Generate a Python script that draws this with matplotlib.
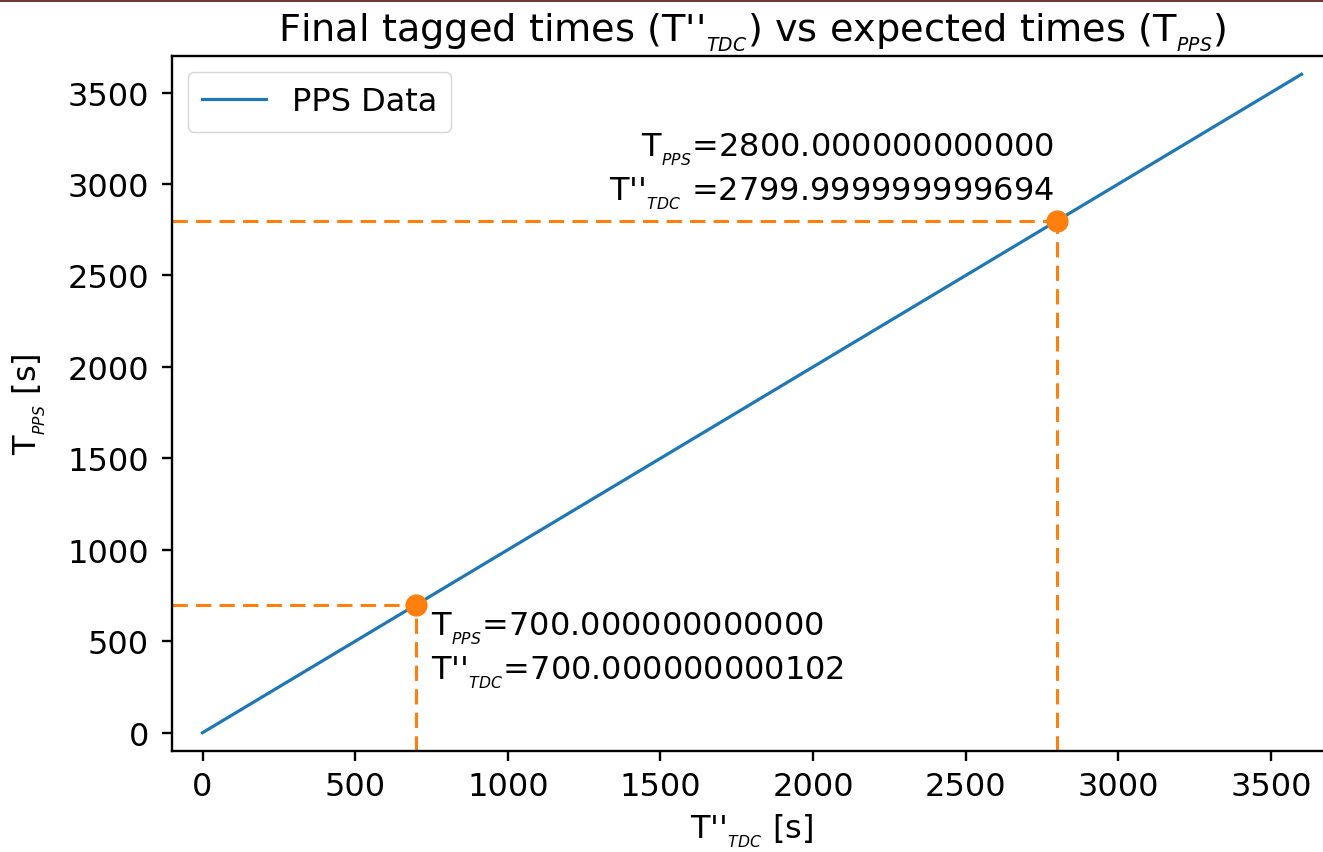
import matplotlib.pyplot as plt
from matplotlib.patches import Rectangle

# PPS run: tagged TDC time against expected PPS time
t_tdc = [0, 3600]
t_pps = [0, 3600]

# the two checked points and their printed values
check_pps = [700, 2800]
check_tdc = [700.000000000102, 2799.999999999694]
check_pps_txt = ["700.000000000000", "2800.000000000000"]
check_tdc_txt = ["700.000000000102", "2799.999999999694"]

TDC = r"T''$_{_{TDC}}$"
PPS = r"T$_{_{PPS}}$"

fig = plt.figure(figsize=(13.23, 8.53), dpi=100)
# axes runs past the right edge of the figure
ax = fig.add_axes([0.130, 0.1184, 0.95, 0.8148])
ax.patch.set_visible(False)
xmin, ymin = -100, -100
xmax = xmin + 0.95 * 1323 * 3800 / 1160
xc = (752 - 172) / (0.95 * 1323)

ax.plot(t_tdc, t_pps, color='C0', lw=2.3, label='PPS Data', zorder=3)

for x, y in zip(check_tdc, check_pps):
    ax.plot([xmin, x], [y, y], color='C1', lw=2.2, dashes=(5, 2.7), zorder=2)
    ax.plot([x, x], [ymin, y], color='C1', lw=2.2, dashes=(5, 2.7), zorder=2)
    ax.plot(x, y, 'o', color='C1', ms=15, zorder=4)

# low point: label below-right, high point: label above-left
ax.text(check_tdc[0] + 50, check_pps[0] - 30,
        PPS + "=" + check_pps_txt[0] + "\n" + TDC + "=" + check_tdc_txt[0],
        ha='left', va='top', fontsize=23, linespacing=1.3)
ax.text(check_tdc[1] - 10, check_pps[1] + 55,
        PPS + "=" + check_pps_txt[1] + "\n" + TDC + " =" + check_tdc_txt[1],
        ha='right', va='bottom', fontsize=23, linespacing=1.3)

ax.set_xlim(xmin, xmax)
ax.set_ylim(ymin, 3700)
ax.set_xticks(range(0, 3501, 500))
ax.set_yticks(range(0, 3501, 500))
ax.tick_params(labelsize=23, width=1.7, length=7.5)
ax.tick_params(axis='x', pad=7)
ax.tick_params(axis='y', pad=9)
ax.spines['right'].set_visible(False)
for s in ax.spines.values():
    s.set_linewidth(1.7)

ax.set_xlabel(TDC + " [s]", fontsize=23)
ax.xaxis.set_label_coords(xc, -0.088)
ax.set_ylabel(PPS + " [s]", fontsize=23, labelpad=14)
fig.text(752 / 1323, 1 - 33 / 853,
         "Final tagged times (" + TDC + ") vs expected times (" + PPS + ")",
         fontsize=27.5, ha='center', va='center')
ax.legend(loc='upper left', fontsize=23, handlelength=2.0, borderpad=0.45,
          bbox_to_anchor=(0.0, 1.0))

fig.add_artist(Rectangle((0, 1 - 3 / 853), 1, 3 / 853, transform=fig.transFigure,
                         color='#6e3838', lw=0))

fig.savefig('out.png', dpi=100)
